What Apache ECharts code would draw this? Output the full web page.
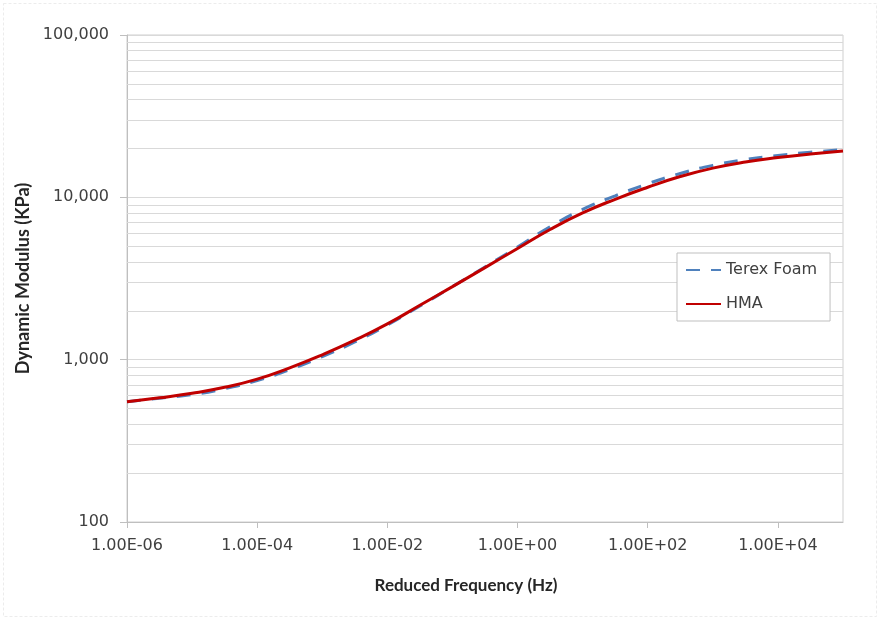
<!DOCTYPE html>
<html>
<head>
<meta charset="utf-8">
<script src="https://cdn.jsdelivr.net/npm/echarts@6/dist/echarts.min.js"></script>
<style>
html,body{margin:0;padding:0;background:#fff;}
#main{width:880px;height:620px;}
</style>
</head>
<body>
<div id="main"></div>
<script>
// Reduced frequency (Hz), half-decade steps
var frequency = [1e-6, 3.16e-6, 1e-5, 3.16e-5, 1e-4, 3.16e-4, 1e-3, 3.16e-3, 1e-2, 3.16e-2, 1e-1, 3.16e-1,
                 1, 3.16, 10, 31.6, 100, 316, 1000, 3160, 1e4, 3.16e4, 1e5];
// Dynamic modulus (KPa)
var terexFoam = [551, 579, 609, 663, 744, 869, 1045, 1285, 1635, 2141, 2818, 3727,
                 4939, 6593, 8418, 10213, 12112, 14030, 15740, 17100, 18110, 18955, 19660];
var hma = [551, 582, 621, 676, 759, 891, 1072, 1318, 1660, 2163, 2818, 3690,
           4842, 6339, 8017, 9727, 11535, 13428, 15136, 16520, 17580, 18493, 19275];
var xTickValues = [1e-6, 1e-4, 1e-2, 1, 1e2, 1e4];
var xTickLabels = ['1.00E-06', '1.00E-04', '1.00E-02', '1.00E+00', '1.00E+02', '1.00E+04'];
var minorGridValues = [200, 300, 400, 500, 600, 700, 800, 900,
                       2000, 3000, 4000, 5000, 6000, 7000, 8000, 9000,
                       20000, 30000, 40000, 50000, 60000, 70000, 80000, 90000];

function pairs(xs, ys) { return xs.map(function (x, i) { return [x, ys[i]]; }); }
function commas(v) { return Math.round(v).toString().replace(/\B(?=(\d{3})+(?!\d))/g, ','); }

var chart = echarts.init(document.getElementById('main'), null, {renderer: 'canvas'});
var gridColor = '#d9d9d9';
chart.setOption({
  animation: false,
  backgroundColor: '#fff',
  graphic: [{
    type: 'rect', shape: {x: 3.5, y: 3.5, width: 873, height: 613},
    style: {fill: 'none', stroke: '#ececec', lineWidth: 1, lineDash: [3, 2]}, silent: true, z: -1
  }],
  grid: {left: 127, right: 37, top: 35, bottom: 98, show: true, borderColor: '#cfcfcf', borderWidth: 1, backgroundColor: 'transparent'},
  legend: {
    orient: 'vertical', left: 677, top: 253,
    backgroundColor: '#fff', borderColor: '#bfbfbf', borderWidth: 1,
    padding: [9, 13, 9, 8], itemGap: 18, itemWidth: 35, itemHeight: 1, itemTextGap: 3,
    itemStyle: {color: 'transparent', borderColor: 'transparent', borderWidth: 0},
    textStyle: {fontFamily: 'DejaVu Sans', fontSize: 16, color: '#404040'},
    data: ['Terex Foam', 'HMA']
  },
  xAxis: {
    type: 'log', logBase: 10, min: 1e-6, max: 1e5,
    name: 'Reduced Frequency (Hz)', nameLocation: 'middle', nameGap: 55,
    nameTextStyle: {fontFamily: 'Lato', fontWeight: 'bold', fontSize: 17, color: '#262626', padding: [0, 38, 0, 0]},
    axisLine: {show: true, lineStyle: {color: '#bfbfbf', width: 1}},
    axisTick: {show: true, length: 6, inside: false, lineStyle: {color: '#bfbfbf'}, customValues: xTickValues},
    axisLabel: {
      customValues: xTickValues, margin: 16,
      fontFamily: 'DejaVu Sans', fontSize: 16, color: '#404040',
      formatter: function (v) {
        var i = xTickValues.findIndex(function (t) { return Math.abs(Math.log10(t) - Math.log10(v)) < 1e-6; });
        return i >= 0 ? xTickLabels[i] : '';
      }
    },
    splitLine: {show: false}, minorTick: {show: false}, minorSplitLine: {show: false}
  },
  yAxis: {
    type: 'log', logBase: 10, min: 100, max: 100000,
    name: 'Dynamic Modulus (KPa)', nameLocation: 'middle', nameGap: 94, nameRotate: 90,
    nameTextStyle: {fontFamily: 'Lato', fontWeight: 'bold', fontSize: 18, color: '#262626'},
    axisLine: {show: true, lineStyle: {color: '#bfbfbf', width: 1}},
    axisTick: {show: true, length: 7, lineStyle: {color: '#bfbfbf'}},
    axisLabel: {margin: 18, fontFamily: 'DejaVu Sans', fontSize: 16, color: '#404040', formatter: commas},
    splitLine: {show: true, lineStyle: {color: gridColor, width: 1}},
    minorTick: {show: false}, minorSplitLine: {show: false}
  },
  series: [
    {
      name: 'minor-grid', type: 'line', data: [], silent: true,
      markLine: {
        silent: true, symbol: ['none', 'none'], z: 1, animation: false,
        label: {show: false}, emphasis: {disabled: true},
        lineStyle: {color: gridColor, width: 1, type: 'solid'},
        data: minorGridValues.map(function (v) { return {yAxis: v}; })
      }
    },
    {
      name: 'Terex Foam', type: 'line', data: pairs(frequency, terexFoam),
      smooth: true, symbol: 'none', z: 3,
      lineStyle: {color: '#4f81bd', width: 3, type: [14, 11]},
      itemStyle: {color: '#4f81bd'}
    },
    {
      name: 'HMA', type: 'line', data: pairs(frequency, hma),
      smooth: true, symbol: 'none', z: 4,
      lineStyle: {color: '#c00000', width: 3, type: 'solid'},
      itemStyle: {color: '#c00000'}
    }
  ]
});
</script>
</body>
</html>
